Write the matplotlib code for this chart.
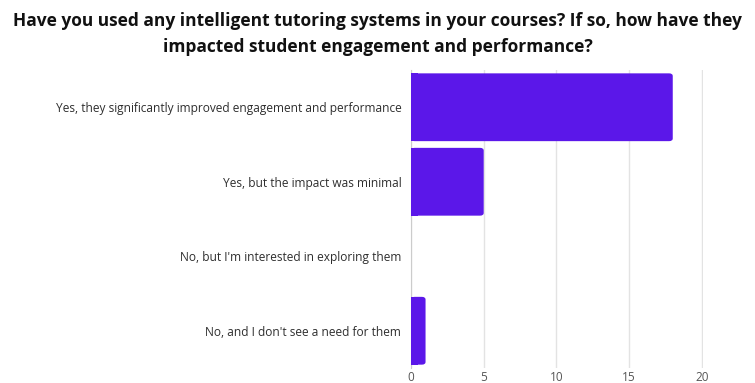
import matplotlib
matplotlib.use("Agg")
import matplotlib.pyplot as plt
from matplotlib.patches import FancyBboxPatch

categories = [
    "Yes, they significantly improved engagement and performance",
    "Yes, but the impact was minimal",
    "No, but I'm interested in exploring them",
    "No, and I don't see a need for them",
]
values = [18, 5, 0, 1]
x_ticks = [0, 5, 10, 15, 20]
title = ("Have you used any intelligent tutoring systems in your courses? If so, how have they\n"
         "impacted student engagement and performance?")

bar_color = "#5B17E9"

fig = plt.figure(figsize=(7.55, 3.83), dpi=100)
ax = fig.add_axes([411 / 755, 15 / 383, 292 / 755, 298 / 383])

bars = ax.barh(range(len(categories)), values, height=0.91, color=bar_color)

# round the right-hand corners of each bar
for b in bars:
    w = b.get_width()
    if w <= 0:
        continue
    x0, y0, h = b.get_x(), b.get_y(), b.get_height()
    b.set_visible(False)
    r = 0.25
    ax.add_patch(FancyBboxPatch((x0, y0), w, h,
                                boxstyle=f"round,pad=0,rounding_size={r}",
                                mutation_aspect=h / 0.5 * 0.08,
                                facecolor=bar_color, edgecolor="none", zorder=3))
    ax.add_patch(plt.Rectangle((x0, y0), min(w, 0.5), h,
                               facecolor=bar_color, edgecolor="none", zorder=3))

ax.set_xlim(0, 20.08)
ax.set_ylim(len(categories) - 0.5, -0.5)
ax.set_xticks(x_ticks)
ax.set_yticks(range(len(categories)))
ax.set_yticklabels(categories, fontsize=8.6, color="#2e2e2e", family="Open Sans")
ax.set_xticklabels([str(t) for t in x_ticks], fontsize=8.5, color="#555555", family="Open Sans")

ax.grid(axis="x", color="#e3e3e3", linewidth=1)
ax.set_axisbelow(True)
for s in ["top", "right", "bottom"]:
    ax.spines[s].set_visible(False)
ax.spines["left"].set_color("#cccccc")
ax.tick_params(axis="both", length=0)
ax.tick_params(axis="y", pad=7)
ax.tick_params(axis="x", pad=2)

fig.text(0.5, 0.968, title, ha="center", va="top", fontsize=12.5, fontweight="bold",
         family="Open Sans", color="#111111", linespacing=1.55)

fig.savefig("out.png", dpi=100)
